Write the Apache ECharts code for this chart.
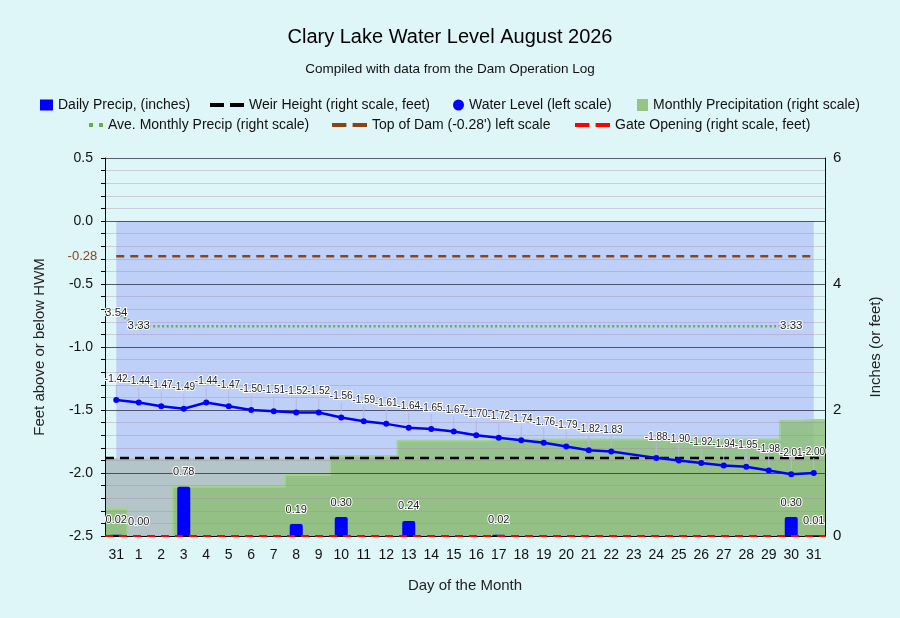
<!DOCTYPE html>
<html>
<head>
<meta charset="utf-8">
<title>Clary Lake Water Level August 2026</title>
<script src="https://cdn.jsdelivr.net/npm/echarts@6/dist/echarts.min.js"></script>
<style>
html, body { margin: 0; padding: 0; background: #dff6f8; }
#chart { width: 900px; height: 618px; }
</style>
</head>
<body>
<div id="chart"></div>
<script>
// day 31 of July, then every day of August
var days = ['31','1','2','3','4','5','6','7','8','9','10','11','12','13','14','15',
  '16','17','18','19','20','21','22','23','24','25','26','27','28','29','30','31']

// feet above (+) or below (-) high water mark, left scale
var waterLevel = [-1.42,-1.44,-1.47,-1.49,-1.44,-1.47,-1.50,-1.51,-1.52,-1.52,-1.56,-1.59,
  -1.61,-1.64,-1.65,-1.67,-1.70,-1.72,-1.74,-1.76,-1.79,-1.82,-1.83,null,-1.88,-1.90,
  -1.92,-1.94,-1.95,-1.98,-2.01,-2.00]

// inches, right scale
var dailyPrecip = [0.02,0.00,null,0.78,null,null,null,null,0.19,null,0.30,null,null,0.24,
  null,null,null,0.02,null,null,null,null,null,null,null,null,null,null,null,null,0.30,0.01]
var monthlyPrecip = [0.43,0,0,0.78,0.78,0.78,0.78,0.78,0.97,0.97,1.27,1.27,1.27,1.51,1.51,
  1.51,1.51,1.53,1.53,1.53,1.53,1.53,1.53,1.53,1.53,1.53,1.53,1.53,1.53,1.53,1.83,1.84]
var aveMonthly = [3.54,3.33,3.33,3.33,3.33,3.33,3.33,3.33,3.33,3.33,3.33,3.33,3.33,3.33,
  3.33,3.33,3.33,3.33,3.33,3.33,3.33,3.33,3.33,3.33,3.33,3.33,3.33,3.33,3.33,3.33,3.33,null]

var hwmLevel = 0        // left scale
var topOfDam = -0.28    // left scale
var weirHeight = 1.24   // right scale, feet
var gateOpening = 0     // right scale, feet

var FONT = 'Liberation Sans, Arial, sans-serif'
var HALO = { color: '#222', textBorderColor: '#fff', textBorderWidth: 2 }

function constant(v) { return days.map(function () { return v }) }
// full-width series on the hidden value axis (-0.5 .. 31.5)
function fullWidth(v) { return [[-0.5, v], [days.length - 0.5, v]] }
function stepData(arr) {
  var d = [[-0.5, arr[0]]]
  arr.forEach(function (v, i) { d.push([i, v]) })
  d.push([arr.length - 0.5, arr[arr.length - 1]])
  return d
}
// label only where a run of equal values starts or ends
function runEnds(arr) {
  return function (p) {
    var i = p.dataIndex, v = arr[i]
    var prev = i > 0 ? arr[i - 1] : null
    var next = i < arr.length - 1 ? arr[i + 1] : null
    return (v !== prev || v !== next) ? v.toFixed(2) : ''
  }
}

var dash2 = 'path://M0,0h14v4h-14z M20,0h14v4h-14z'
function legendItem(left, top, name, icon, color, w, h) {
  return {
    left: left, top: top, padding: 0, itemWidth: w, itemHeight: h,
    textStyle: { fontSize: 14, color: '#111', fontFamily: FONT },
    data: [{ name: name, icon: icon, itemStyle: { color: color, borderWidth: 0 } }]
  }
}

var chart = echarts.init(document.getElementById('chart'))
chart.setOption({
  animation: false,
  backgroundColor: '#dff6f8',
  textStyle: { fontFamily: FONT },
  title: [
    { text: 'Clary Lake Water Level August 2026', left: 'center', top: 27, padding: 0,
      textStyle: { fontSize: 20, fontWeight: 'normal', color: '#000' } },
    { text: 'Compiled with data from the Dam Operation Log', left: 'center', top: 62, padding: 0,
      textStyle: { fontSize: 13.5, fontWeight: 'normal', color: '#111' } }
  ],
  legend: [
    legendItem(40, 98, 'Daily Precip, (inches)', 'rect', '#0000ff', 13, 11),
    legendItem(210, 98, 'Weir Height (right scale, feet)', dash2, '#000', 34, 11),
    legendItem(453, 98, 'Water Level (left scale)', 'circle', '#0000ff', 11, 12),
    legendItem(637, 98, 'Monthly Precipitation (right scale)', 'rect', '#95c486', 11, 12),
    legendItem(89, 118, 'Ave. Monthly Precip (right scale)',
      'path://M0,0h4v4h-4z M10,0h4v4h-4z', '#66ad4c', 14, 11),
    legendItem(332, 118, "Top of Dam (-0.28') left scale", dash2, '#8b4513', 35, 11),
    legendItem(575, 118, 'Gate Opening (right scale, feet)', dash2, '#ff0000', 35, 11)
  ],
  grid: { left: 105, right: 75, top: 158, bottom: 82, containLabel: false, outerBoundsMode: 'none' },
  xAxis: [
    { type: 'category', data: days, boundaryGap: true, z: 4,
      axisLine: { onZero: false, lineStyle: { color: '#000', width: 1 } },
      axisTick: { alignWithLabel: true, length: 6, lineStyle: { color: '#000' } },
      axisLabel: { interval: 0, fontSize: 14, color: '#111', margin: 12 },
      splitLine: { show: false },
      name: 'Day of the Month', nameLocation: 'middle', nameGap: 42,
      nameTextStyle: { fontSize: 15, color: '#222' } },
    { type: 'value', min: -0.5, max: days.length - 0.5, show: false }
  ],
  yAxis: [
    { type: 'value', position: 'left', min: -2.5, max: 0.5, interval: 0.5, z: 4,
      axisLine: { show: true, onZero: false, lineStyle: { color: '#000' } },
      axisTick: { show: true, length: 4, lineStyle: { color: '#000' } },
      minorTick: { show: true, splitNumber: 5, length: 4, lineStyle: { color: '#000' } },
      axisLabel: { fontSize: 14, color: '#111', margin: 12,
        formatter: function (v) { return v.toFixed(1) } },
      splitLine: { lineStyle: { color: 'rgba(40,40,60,0.75)', width: 1 } },
      minorSplitLine: { show: true, lineStyle: { color: 'rgba(170,130,170,0.35)', width: 1 } },
      name: 'Feet above or below HWM', nameLocation: 'middle', nameGap: 58, nameRotate: 90,
      nameTextStyle: { fontSize: 15, color: '#222' } },
    { type: 'value', position: 'right', min: 0, max: 6, interval: 2, z: 4,
      axisLine: { show: true, onZero: false, lineStyle: { color: '#000' } },
      axisTick: { show: false },
      axisLabel: { fontSize: 15, color: '#111', margin: 8 },
      splitLine: { show: false },
      name: 'Inches (or feet)', nameLocation: 'middle', nameGap: 43, nameRotate: 90,
      nameTextStyle: { fontSize: 15, color: '#222' } }
  ],
  series: [
    { name: 'HWM', type: 'line', z: 1, data: constant(hwmLevel), symbol: 'none',
      lineStyle: { width: 0 }, areaStyle: { color: '#bfd0f8', opacity: 1, origin: 'start' },
      silent: true },
    { name: 'Weir area', type: 'line', z: 2, xAxisIndex: 1, yAxisIndex: 1,
      data: fullWidth(weirHeight), symbol: 'none',
      lineStyle: { width: 0 }, areaStyle: { color: '#b4c5c9', opacity: 1 }, silent: true },
    { name: 'Monthly Precipitation (right scale)', type: 'line', z: 3, xAxisIndex: 1, yAxisIndex: 1,
      step: 'middle', data: stepData(monthlyPrecip), symbol: 'none',
      itemStyle: { color: '#95c486' },
      lineStyle: { color: '#a3d193', width: 2 },
      areaStyle: { color: 'rgba(140,190,120,0.82)', opacity: 1 } },
    { name: 'Daily Precip, (inches)', type: 'bar', z: 5, yAxisIndex: 1, data: dailyPrecip,
      barWidth: 13, itemStyle: { color: '#0000ff', borderRadius: [2, 2, 0, 0] },
      label: Object.assign({ show: true, position: 'top', distance: 9, fontSize: 11,
        formatter: function (p) { return p.value.toFixed(2) } }, HALO) },
    { name: 'Ave. Monthly Precip (right scale)', type: 'line', z: 6, yAxisIndex: 1,
      data: aveMonthly, symbol: 'circle', symbolSize: 0, showSymbol: true,
      itemStyle: { color: '#66ad4c' },
      lineStyle: { color: '#66ad4c', width: 2.5, type: [2, 2.5] },
      label: Object.assign({ show: true, position: 'inside', fontSize: 11.5,
        formatter: runEnds(aveMonthly) }, HALO) },
    { name: "Top of Dam (-0.28') left scale", type: 'line', z: 6, data: constant(topOfDam),
      symbol: 'circle', symbolSize: 0, showSymbol: true,
      itemStyle: { color: '#8b4513' },
      lineStyle: { color: '#8b4513', width: 2.5, type: [8, 6] },
      label: { show: true, position: 'left', distance: 19, fontSize: 13, color: '#8b4513',
        formatter: function (p) { return p.dataIndex === 0 ? p.value.toFixed(2) : '' } } },
    { name: 'Weir Height (right scale, feet)', type: 'line', z: 6, xAxisIndex: 1, yAxisIndex: 1,
      data: fullWidth(weirHeight), symbol: 'none', itemStyle: { color: '#000' },
      lineStyle: { color: '#000', width: 2.5, type: [9, 6] } },
    { name: 'Gate Opening (right scale, feet)', type: 'line', z: 6, xAxisIndex: 1, yAxisIndex: 1,
      data: fullWidth(gateOpening), symbol: 'none', itemStyle: { color: '#ff0000' },
      lineStyle: { color: '#ff0000', width: 2, type: [8, 6] } },
    { name: 'Water Level (left scale)', type: 'line', z: 8, data: waterLevel, connectNulls: true,
      symbol: 'circle', symbolSize: 6, itemStyle: { color: '#0000ff' },
      lineStyle: { color: '#0000ff', width: 2.5 },
      label: Object.assign({ show: true, position: 'top', distance: 3, fontSize: 10,
        formatter: function (p) { return p.value.toFixed(2) } }, HALO),
      labelLayout: { dy: -10 },
      labelLine: { show: true, lineStyle: { color: 'rgba(185,180,225,1)', width: 1 } } }
  ]
})
</script>
</body>
</html>
